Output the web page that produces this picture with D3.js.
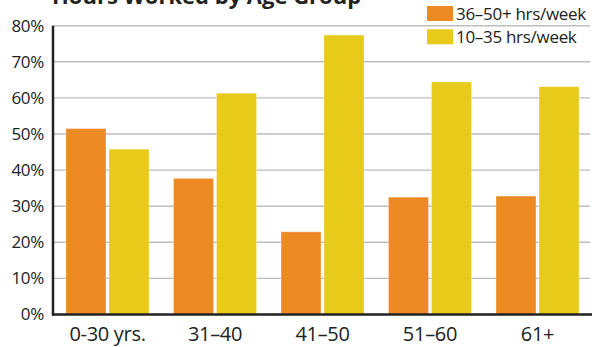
<!DOCTYPE html>
<html>
<head>
<meta charset="utf-8">
<script src="https://cdn.jsdelivr.net/npm/d3@7"></script>
<style>
  html, body { margin: 0; padding: 0; background: #fff; }
  svg { display: block; font-family: "Open Sans", sans-serif; }
</style>
</head>
<body>
<svg id="chart" width="602" height="347"></svg>
<script>
// Share of workers by weekly hours, per age group (percent)
const categories = ["0-30 yrs.", "31\u201340", "41\u201350", "51\u201360", "61+"];
const seriesNames = ["36\u201350+ hrs/week", "10\u201335 hrs/week"];
const longHours = [51.5, 37.7, 22.9, 32.5, 32.8];
const shortHours = [45.8, 61.3, 77.4, 64.4, 63.1];
const yTicks = [0, 10, 20, 30, 40, 50, 60, 70, 80];
const colors = ["#EE8A24", "#E8CA1B"];
const title = "Hours Worked by Age Group";

const rows = categories.map((c, i) => ({ cat: c, values: [longHours[i], shortHours[i]] }));

const svg = d3.select("#chart");
const plotLeft = 53, plotRight = 592, plotTop = 25.7, plotBottom = 314.5;

const x = d3.scaleBand().domain(categories).range([plotLeft, plotRight])
  .paddingInner(0.228).paddingOuter(0.121);
const xs = d3.scaleBand().domain([0, 1]).range([0, x.bandwidth()]).paddingInner(0.07);
const y = d3.scaleLinear().domain([0, 80]).range([plotBottom, plotTop]);

// title (partly above the top edge)
svg.append("text").attr("x", 52).attr("y", 4)
  .attr("font-weight", 700).attr("font-size", 22).attr("fill", "#222")
  .text(title);

// gridlines
svg.append("g").selectAll("line").data(yTicks.filter(d => d > 0)).join("line")
  .attr("x1", plotLeft).attr("x2", 590)
  .attr("y1", d => y(d)).attr("y2", d => y(d))
  .attr("stroke", "#bdbdbd").attr("stroke-width", 1.4);

// y tick labels
const yAxis = d3.axisLeft(y).tickValues(yTicks).tickFormat(d => d + "%").tickSize(0).tickPadding(9);
const gy = svg.append("g").attr("transform", `translate(${plotLeft},0)`).call(yAxis);
gy.select(".domain").remove();
gy.selectAll("text").attr("font-family", "Open Sans, sans-serif")
  .attr("font-size", 17).attr("fill", "#222").attr("letter-spacing", -0.3);

// bars
const groups = svg.append("g").selectAll("g").data(rows).join("g")
  .attr("transform", d => `translate(${x(d.cat)},0)`);
groups.selectAll("rect").data(d => d.values.map((v, k) => ({ v, k }))).join("rect")
  .attr("x", d => xs(d.k)).attr("width", xs.bandwidth())
  .attr("y", d => y(d.v)).attr("height", d => y(0) - y(d.v))
  .attr("fill", d => colors[d.k])
  .attr("stroke", "#fff").attr("stroke-opacity", 0.35).attr("stroke-width", 0.8);

// axis lines
svg.append("line").attr("x1", plotLeft).attr("x2", plotLeft).attr("y1", plotTop).attr("y2", plotBottom + 1)
  .attr("stroke", "#222").attr("stroke-width", 2.5);
svg.append("line").attr("x1", plotLeft - 1).attr("x2", 592).attr("y1", plotBottom).attr("y2", plotBottom)
  .attr("stroke", "#222").attr("stroke-width", 2.5);

// x labels
const xAxis = d3.axisBottom(x).tickSize(0).tickPadding(12);
const gx = svg.append("g").attr("transform", `translate(0,${plotBottom})`).call(xAxis);
gx.select(".domain").remove();
gx.selectAll("text").attr("font-family", "Open Sans, sans-serif")
  .attr("font-size", 20).attr("fill", "#222").attr("letter-spacing", -0.3);

// legend
const legend = svg.append("g").selectAll("g").data(seriesNames).join("g")
  .attr("transform", (d, i) => `translate(427,${6 + i * 23.3})`);
legend.append("rect").attr("width", 26).attr("height", 15)
  .attr("fill", (d, i) => colors[i]);
legend.append("text").attr("x", 29).attr("y", 14)
  .attr("font-size", 17).attr("fill", "#222").attr("letter-spacing", -0.3)
  .text(d => d);
</script>
</body>
</html>
